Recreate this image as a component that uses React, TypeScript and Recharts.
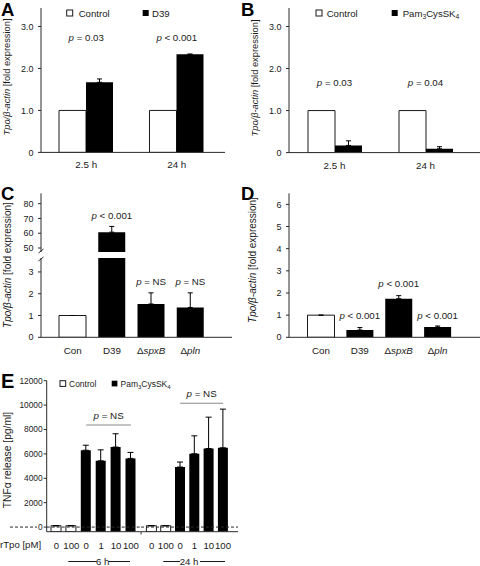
import React from 'react';
import { BarChart, Bar, XAxis, YAxis, ErrorBar, Cell, ReferenceDot, ReferenceLine } from 'recharts';

const FONT = '"Liberation Sans", Arial, Helvetica, sans-serif';
const INK = '#1a1a1a';
const AXIS = '#2a2a2a';

// ---------- Panel A ----------
const A_TIMES = ['2.5 h', '24 h'];
const A_CONTROL = [1.0, 1.0];
const A_D39 = [1.67, 2.34];
const A_D39_ERR = [0.08, 0];
const A_P_TEXT = ['= 0.03', '< 0.001'];
const A_P_AT = 2.66;
const AB_TICKS = [0, 1, 2, 3];

// ---------- Panel B ----------
const B_TIMES = ['2.5 h', '24 h'];
const B_CONTROL = [1.0, 1.0];
const B_PAM = [0.17, 0.09];
const B_PAM_ERR = [0.11, 0.05];
const B_P_TEXT = ['= 0.03', '= 0.04'];
const B_P_AT = 1.59;

// ---------- Panels C / D ----------
const CD_GROUPS = ['Con', 'D39', 'ΔspxB', 'Δpln'];
const C_VALUES = [1.0, 60.7, 1.53, 1.37];
const C_ERR = [0, 3.9, 0.51, 0.67];
const C_P_TEXT = ['', '< 0.001', '= NS', '= NS'];
const C_P_AT = [0, 69.3, 2.4, 2.4];
const C_UPPER_TICKS = [50, 60, 70, 80];
const C_LOWER_TICKS = [0, 1, 2, 3];

const D_VALUES = [1.0, 0.33, 1.74, 0.46];
const D_ERR = [0, 0.11, 0.14, 0.05];
const D_P_TEXT = ['', '< 0.001', '< 0.001', '< 0.001'];
const D_P_AT = [0, 0.83, 2.27, 0.83];
const D_TICKS = [0, 1, 2, 3, 4, 5, 6];

// ---------- Panel E ----------
const E_DOSES = ['0', '100', '0', '1', '10', '100'];
const E_TREATMENT = ['Control', 'Control', 'Pam', 'Pam', 'Pam', 'Pam'];
const E_6H = [110, 110, 6300, 5430, 6560, 5630];
const E_6H_ERR = [0, 0, 410, 900, 1090, 490];
const E_24H = [110, 110, 4920, 6010, 6440, 6500];
const E_24H_ERR = [0, 0, 410, 1470, 2570, 3170];
const E_TICKS = [0, 2000, 4000, 6000, 8000, 10000, 12000];
const E_DOMAIN: [number, number] = [-380, 12000];
const E_NS_6H = 8370;
const E_NS_24H = 10150;

// ---------- derived tables ----------
const aRows = A_TIMES.map((t, i) => ({ time: t, control: A_CONTROL[i], d39: A_D39[i], err: [0, A_D39_ERR[i]] }));
const bRows = B_TIMES.map((t, i) => ({ time: t, control: B_CONTROL[i], pam: B_PAM[i], err: [0, B_PAM_ERR[i]] }));
const cUpperRows = CD_GROUPS.map((g, i) => ({ group: g, v: i === 1 ? C_VALUES[i] : null, err: [0, i === 1 ? C_ERR[i] : 0] }));
const cLowerRows = CD_GROUPS.map((g, i) => ({ group: g, v: C_VALUES[i], err: [0, i === 1 ? 0 : C_ERR[i]] }));
const dRows = CD_GROUPS.map((g, i) => ({ group: g, v: D_VALUES[i], err: [0, D_ERR[i]] }));
const eRows = (vals: number[], errs: number[]) =>
  E_DOSES.map((d, i) => ({
    key: `${E_TREATMENT[i]}-${d}`,
    treat: E_TREATMENT[i],
    v: [E_DOMAIN[0], vals[i]],
    err: [0, errs[i]],
  }));
const e6Rows = eRows(E_6H, E_6H_ERR);
const e24Rows = eRows(E_24H, E_24H_ERR);

// ---------- helpers ----------
const yTick = { fontSize: 9, fill: INK, fontFamily: FONT };
const xTick = { fontSize: 9.8, fill: INK, fontFamily: FONT };

const pShape = (text: string, size = 9.7) => (props: any) => (
  <text x={props.cx} y={props.cy} textAnchor="middle" fontSize={size} fontFamily={FONT} fill={INK}>
    <tspan fontStyle="italic">p</tspan>
    {` ${text}`}
  </text>
);

const GroupTick = (props: any) => {
  const { x, y, payload } = props;
  const v: string = payload.value;
  const delta = v.startsWith('Δ');
  return (
    <text x={x} y={y} dy="0.71em" textAnchor="middle" fontSize={9.8} fontFamily={FONT} fill={INK}>
      {delta ? (
        <>
          <tspan>Δ</tspan>
          <tspan fontStyle="italic">{v.slice(1)}</tspan>
        </>
      ) : (
        v
      )}
    </text>
  );
};

const EYTick = (props: any) => {
  const { x, y, payload } = props;
  return (
    <g>
      {payload.value === 0 && <line x1={10} x2={37} y1={y} y2={y} stroke={AXIS} strokeDasharray="3 2" />}
      <text x={x} y={y} dy="0.35em" textAnchor="end" fontSize={8.4} fontFamily={FONT} fill={INK}>
        {payload.value}
      </text>
    </g>
  );
};

const nsLabel = (props: any) => {
  const vb = props.viewBox || {};
  return (
    <text x={vb.x + vb.width / 2} y={vb.y - 6} textAnchor="middle" fontSize={9.8} fontFamily={FONT} fill={INK}>
      <tspan fontStyle="italic">p</tspan>
      {' = NS'}
    </text>
  );
};

const Box = ({ left, top, children }: any) => (
  <div style={{ position: 'absolute', left, top }}>{children}</div>
);

const fmt1 = (v: number) => (v === 0 ? '0' : v.toFixed(1));

// ---------- charts ----------
const ChartA = () => (
  <BarChart width={240} height={180} data={aRows} margin={{ top: 8, right: 15, bottom: 0, left: 0 }} barGap={0}>
    <YAxis width={41} domain={[0, 3.44]} ticks={AB_TICKS} tickFormatter={fmt1} tick={yTick} tickSize={3} tickMargin={4.5} stroke={AXIS} interval={0} allowDataOverflow />
    <XAxis dataKey="time" height={27.6} tickLine={false} tick={xTick} tickMargin={3} padding={{ left: 0, right: 3 }} stroke={AXIS} interval={0} />
    <Bar dataKey="control" fill="#fff" stroke={INK} strokeWidth={1} barSize={27} isAnimationActive={false} />
    <Bar dataKey="d39" fill="#000" barSize={27} isAnimationActive={false}>
      <ErrorBar dataKey="err" width={2.5} stroke="#000" strokeWidth={1} direction="y" />
    </Bar>
    {A_TIMES.map((t, i) => (
      <ReferenceDot key={t} x={t} y={A_P_AT} r={1} shape={pShape(A_P_TEXT[i])} />
    ))}
  </BarChart>
);

const ChartB = () => (
  <BarChart width={240} height={180} data={bRows} margin={{ top: 8, right: 0, bottom: 0, left: 0 }} barGap={0}>
    <YAxis width={49} domain={[0, 3.44]} ticks={AB_TICKS} tickFormatter={fmt1} tick={yTick} tickSize={3} tickMargin={4.5} stroke={AXIS} interval={0} allowDataOverflow />
    <XAxis dataKey="time" height={27.4} tickLine={false} tick={xTick} tickMargin={3} padding={{ left: 0, right: 9 }} stroke={AXIS} interval={0} />
    <Bar dataKey="control" fill="#fff" stroke={INK} strokeWidth={1} barSize={27} isAnimationActive={false} />
    <Bar dataKey="pam" fill="#000" barSize={27} isAnimationActive={false}>
      <ErrorBar dataKey="err" width={2.5} stroke="#000" strokeWidth={1} direction="y" />
    </Bar>
    {B_TIMES.map((t, i) => (
      <ReferenceDot key={t} x={t} y={B_P_AT} r={1} shape={pShape(B_P_TEXT[i])} />
    ))}
  </BarChart>
);

const cdCells = (n: number) =>
  CD_GROUPS.slice(0, n).map((g, i) => (
    <Cell key={g} fill={i === 0 ? '#fff' : '#000'} stroke={i === 0 ? INK : 'none'} strokeWidth={1} />
  ));

const ChartCUpper = () => (
  <BarChart width={240} height={70} data={cUpperRows} margin={{ top: 8.3, right: 8, bottom: 3, left: 0 }}>
    <YAxis width={41} domain={[47.3, 87]} ticks={C_UPPER_TICKS} tick={yTick} tickSize={3} tickMargin={4.5} stroke={AXIS} interval={0} allowDataOverflow />
    <XAxis dataKey="group" hide padding={{ left: 12, right: 22 }} />
    <Bar dataKey="v" barSize={27} isAnimationActive={false}>
      {cdCells(4)}
      <ErrorBar dataKey="err" width={2.5} stroke="#000" strokeWidth={1} direction="y" />
    </Bar>
    <ReferenceDot x={CD_GROUPS[1]} y={C_P_AT[1]} r={1} shape={pShape(C_P_TEXT[1])} />
  </BarChart>
);

const ChartCLower = () => (
  <BarChart width={240} height={115} data={cLowerRows} margin={{ top: 8, right: 8, bottom: 0, left: 0 }}>
    <YAxis width={41} domain={[0, 3.64]} ticks={C_LOWER_TICKS} tick={yTick} tickSize={3} tickMargin={4.5} stroke={AXIS} interval={0} allowDataOverflow />
    <XAxis dataKey="group" height={27.7} tickLine={false} tick={<GroupTick />} tickMargin={4} padding={{ left: 12, right: 22 }} stroke={AXIS} interval={0} />
    <Bar dataKey="v" barSize={27} isAnimationActive={false}>
      {cdCells(4)}
      <ErrorBar dataKey="err" width={2.5} stroke="#000" strokeWidth={1} direction="y" />
    </Bar>
    {[2, 3].map((i) => (
      <ReferenceDot key={i} x={CD_GROUPS[i]} y={C_P_AT[i]} r={1} shape={pShape(C_P_TEXT[i])} />
    ))}
  </BarChart>
);

const ChartD = () => (
  <BarChart width={240} height={180} data={dRows} margin={{ top: 8.3, right: 0, bottom: 0, left: 0 }}>
    <YAxis width={49} domain={[0, 6.5]} ticks={D_TICKS} tick={yTick} tickSize={3} tickMargin={4.5} stroke={AXIS} interval={0} allowDataOverflow />
    <XAxis dataKey="group" height={27.7} tickLine={false} tick={<GroupTick />} tickMargin={4} padding={{ left: 12.5, right: 23 }} stroke={AXIS} interval={0} />
    <Bar dataKey="v" barSize={27} isAnimationActive={false}>
      {cdCells(4)}
      <ErrorBar dataKey="err" width={2.5} stroke="#000" strokeWidth={1} direction="y" />
    </Bar>
    {[1, 2, 3].map((i) => (
      <ReferenceDot key={i} x={CD_GROUPS[i]} y={D_P_AT[i]} r={1} shape={pShape(D_P_TEXT[i])} />
    ))}
  </BarChart>
);

const eCells = (rows: any[]) =>
  rows.map((r) => (
    <Cell key={r.key} fill={r.treat === 'Control' ? '#fff' : '#000'} stroke={r.treat === 'Control' ? INK : 'none'} strokeWidth={1} />
  ));

const eDoseLabel = (k: string) => k.split('-')[1];

const ChartE6 = () => (
  <BarChart width={141} height={201} data={e6Rows} margin={{ top: 15.7, right: 0.3, bottom: 0, left: 0 }}>
    <YAxis width={46.7} domain={E_DOMAIN} ticks={E_TICKS} tick={<EYTick />} tickSize={3} tickMargin={1} stroke={AXIS} interval={0} allowDataOverflow />
    <XAxis dataKey="key" height={34.3} tickLine={false} tick={{ fontSize: 9.6, fill: INK, fontFamily: FONT }} tickFormatter={eDoseLabel} tickMargin={4} padding={{ left: 2.3, right: 2.3 }} stroke={AXIS} interval={0} />
    <ReferenceLine y={0} stroke={AXIS} strokeDasharray="3 2" />
    <Bar dataKey="v" barSize={10} isAnimationActive={false}>
      {eCells(e6Rows)}
      <ErrorBar dataKey="err" width={3} stroke="#000" strokeWidth={1} direction="y" />
    </Bar>
    <ReferenceLine
      segment={[{ x: 'Pam-0', y: E_NS_6H }, { x: 'Pam-100', y: E_NS_6H }]}
      stroke="#8a8a8a"
      strokeWidth={1.2}
      label={nsLabel}
    />
  </BarChart>
);

const ChartE24 = () => (
  <BarChart width={99} height={201} data={e24Rows} margin={{ top: 15.7, right: 2, bottom: 0, left: 0 }}>
    <YAxis hide width={0} domain={E_DOMAIN} ticks={E_TICKS} allowDataOverflow />
    <XAxis dataKey="key" height={34.3} tickLine={false} tick={{ fontSize: 9.6, fill: INK, fontFamily: FONT }} tickFormatter={eDoseLabel} tickMargin={4} padding={{ left: 3.4, right: 7.8 }} stroke={AXIS} interval={0} />
    <ReferenceLine y={0} stroke={AXIS} strokeDasharray="3 2" />
    <Bar dataKey="v" barSize={10} isAnimationActive={false}>
      {eCells(e24Rows)}
      <ErrorBar dataKey="err" width={3} stroke="#000" strokeWidth={1} direction="y" />
    </Bar>
    <ReferenceLine
      segment={[{ x: 'Pam-0', y: E_NS_24H }, { x: 'Pam-100', y: E_NS_24H }]}
      stroke="#8a8a8a"
      strokeWidth={1.2}
      label={nsLabel}
    />
  </BarChart>
);

// ---------- overlay text ----------
const TpoLabel = ({ cx, cy, size }: any) => (
  <text transform={`translate(${cx},${cy}) rotate(-90)`} textAnchor="middle" dy="0.35em" fontSize={size} fontFamily={FONT} fill={INK}>
    <tspan fontStyle="italic">Tpo/β-actin</tspan>
    {' [fold expression]'}
  </text>
);

const PamText = ({ x, y, size }: any) => (
  <text x={x} y={y} fontSize={size} fontFamily={FONT} fill={INK}>
    Pam
    <tspan dy={2} fontSize={size * 0.7}>3</tspan>
    <tspan dy={-2}>CysSK</tspan>
    <tspan dy={2} fontSize={size * 0.7}>4</tspan>
  </text>
);

const Letter = ({ x, y, children, size = 18.5 }: any) => (
  <text x={x} y={y} fontSize={size} fontWeight="bold" fontFamily={FONT} fill="#000">
    {children}
  </text>
);

const Overlay = () => (
  <svg width={480} height={566} style={{ position: 'absolute', left: 0, top: 0, pointerEvents: 'none' }}>
    <Letter x={1} y={16}>A</Letter>
    <Letter x={241} y={16}>B</Letter>
    <Letter x={1} y={200}>C</Letter>
    <Letter x={241} y={200}>D</Letter>
    <Letter x={1} y={388} size={20}>E</Letter>

    <TpoLabel cx={7} cy={77} size={9.3} />
    <TpoLabel cx={255} cy={78} size={9.3} />
    <TpoLabel cx={7} cy={265} size={10} />
    <TpoLabel cx={252} cy={260} size={10} />
    <text transform="translate(7,460) rotate(-90)" textAnchor="middle" dy="0.35em" fontSize={10.3} fontFamily={FONT} fill={INK}>
      TNFα release [pg/ml]
    </text>

    {/* legend A */}
    <rect x={66.7} y={10} width={6} height={6} fill="#fff" stroke={INK} strokeWidth={1} />
    <text x={78.7} y={16.5} fontSize={9.6} fontFamily={FONT} fill={INK}>Control</text>
    <rect x={142.7} y={10} width={6} height={6} fill="#000" />
    <text x={152} y={16.5} fontSize={9.6} fontFamily={FONT} fill={INK}>D39</text>

    {/* legend B */}
    <rect x={316} y={10} width={6} height={6} fill="#fff" stroke={INK} strokeWidth={1} />
    <text x={326.7} y={16.5} fontSize={9.6} fontFamily={FONT} fill={INK}>Control</text>
    <rect x={391.7} y={10} width={6} height={6} fill="#000" />
    <PamText x={402.7} y={16.5} size={9.6} />

    {/* legend E */}
    <rect x={60} y={380.7} width={5.7} height={5.7} fill="#fff" stroke={INK} strokeWidth={1} />
    <text x={69} y={387} fontSize={8.5} fontFamily={FONT} fill={INK}>Control</text>
    <rect x={111.7} y={380.7} width={5.7} height={5.7} fill="#000" />
    <PamText x={120.5} y={387} size={8.5} />

    {/* axis break in C */}
    <line x1={38.5} y1={253} x2={43.5} y2={249} stroke={AXIS} strokeWidth={1} />
    <line x1={38.5} y1={261} x2={43.5} y2={257} stroke={AXIS} strokeWidth={1} />

    {/* E x-axis separator tick */}
    <line x1={141} y1={531.7} x2={141} y2={534.5} stroke={AXIS} strokeWidth={1} />

    {/* E bottom labels */}
    <text x={0} y={548.3} fontSize={9.6} fontFamily={FONT} fill={INK}>rTpo [pM]</text>
    <line x1={68.3} y1={561.5} x2={96.7} y2={561.5} stroke={INK} strokeWidth={1} />
    <text x={102.7} y={565} textAnchor="middle" fontSize={9.6} fontFamily={FONT} fill={INK}>6 h</text>
    <line x1={108.3} y1={561.5} x2={130} y2={561.5} stroke={INK} strokeWidth={1} />
    <line x1={163.3} y1={561.5} x2={180} y2={561.5} stroke={INK} strokeWidth={1} />
    <text x={189} y={565} textAnchor="middle" fontSize={9.6} fontFamily={FONT} fill={INK}>24 h</text>
    <line x1={200} y1={561.5} x2={225} y2={561.5} stroke={INK} strokeWidth={1} />
  </svg>
);

export default function App() {
  return (
    <div style={{ position: 'absolute', left: 0, top: 0, width: 480, height: 566, background: '#fff', overflow: 'hidden', fontFamily: FONT }}>
      <Box left={0} top={0}><ChartA /></Box>
      <Box left={240} top={0}><ChartB /></Box>
      <Box left={0} top={185}><ChartCUpper /></Box>
      <Box left={0} top={250}><ChartCLower /></Box>
      <Box left={240} top={185}><ChartD /></Box>
      <Box left={0} top={365}><ChartE6 /></Box>
      <Box left={141} top={365}><ChartE24 /></Box>
      <Overlay />
    </div>
  );
}
